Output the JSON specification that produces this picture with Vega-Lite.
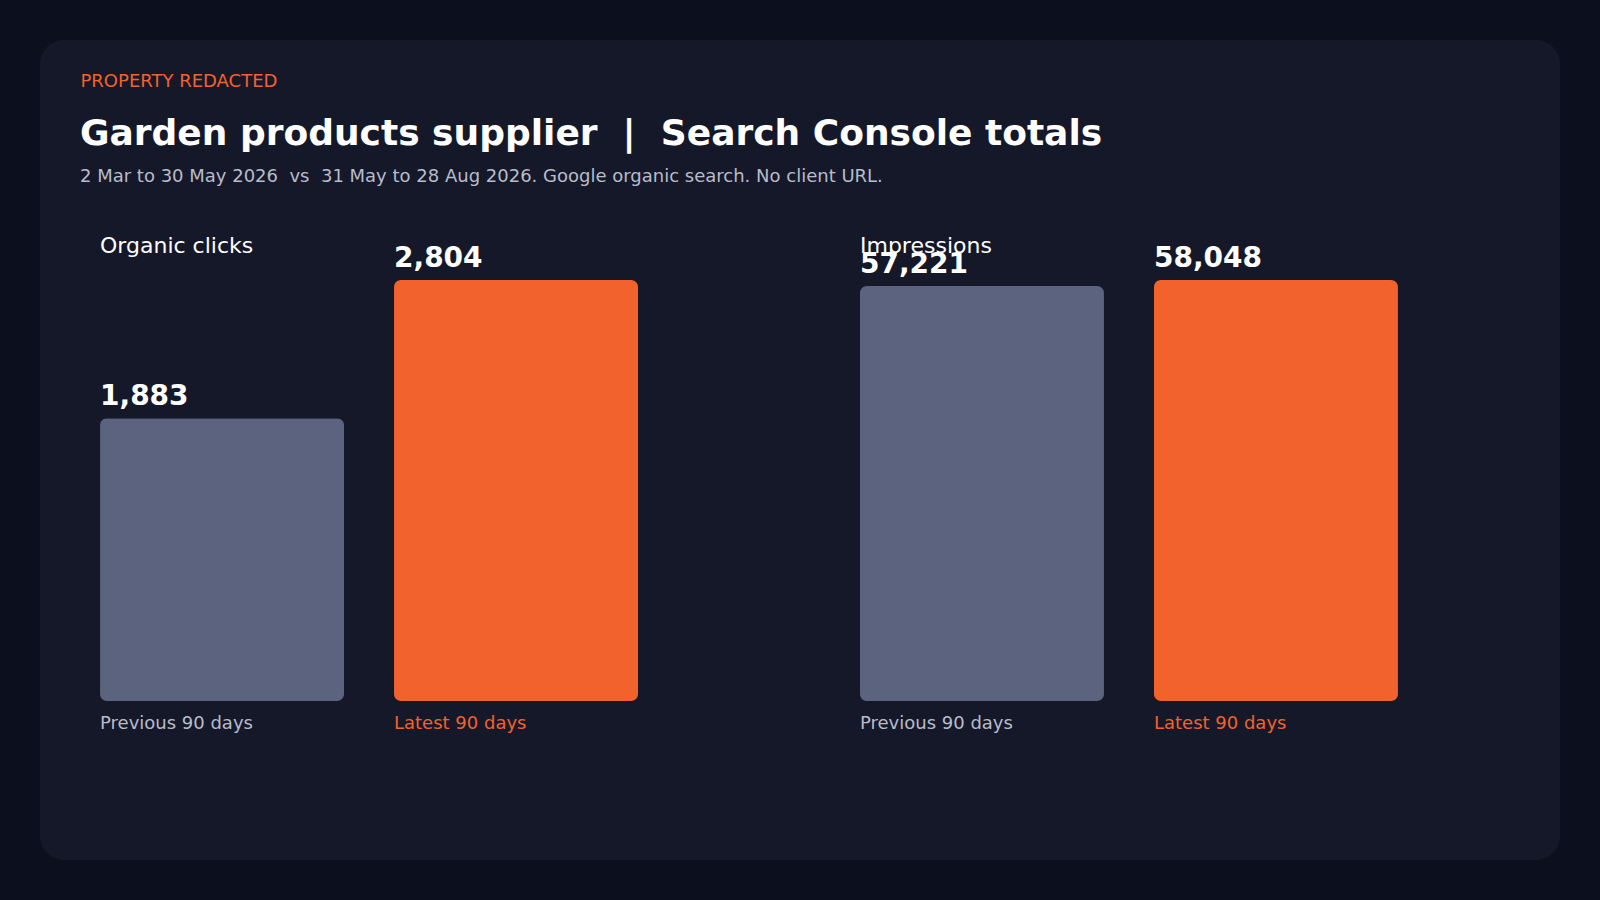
{
  "$schema": "https://vega.github.io/schema/vega-lite/v6.json",
  "width": 1600,
  "height": 900,
  "autosize": {"type": "fit", "contains": "padding"},
  "padding": 40,
  "background": "#0c0f1e",
  "title": {
    "text": "Garden products supplier \u00a0|\u00a0 Search Console totals",
    "subtitle": "2 Mar to 30 May 2026 \u00a0vs\u00a0 31 May to 28 Aug 2026. Google organic search. No client URL.",
    "orient": "top",
    "anchor": "start",
    "frame": "group",
    "offset": -147,
    "dx": 40,
    "font": "DejaVu Sans",
    "fontSize": 36,
    "fontWeight": "bold",
    "color": "#ffffff",
    "subtitleFont": "DejaVu Sans",
    "subtitleFontSize": 18,
    "subtitleColor": "#b8bccb",
    "subtitlePadding": 15
  },
  "data": {
    "values": [
      {"metric": "Organic clicks", "period": "Previous 90 days", "value": 1883},
      {"metric": "Organic clicks", "period": "Latest 90 days", "value": 2804},
      {"metric": "Impressions", "period": "Previous 90 days", "value": 57221},
      {"metric": "Impressions", "period": "Latest 90 days", "value": 58048}
    ]
  },
  "encoding": {
    "x": {
      "field": "metric",
      "type": "nominal",
      "sort": ["Organic clicks", "Impressions"],
      "scale": {"paddingInner": 0.2921, "paddingOuter": 0.1461, "align": 0.2703},
      "axis": {
        "orient": "top",
        "offset": -212,
        "domain": false,
        "ticks": false,
        "tickSize": 0,
        "grid": false,
        "labelOffset": -269,
        "labelPadding": 0,
        "labelAngle": 0,
        "labelAlign": "left",
        "labelBaseline": "alphabetic",
        "labelFont": "DejaVu Sans",
        "labelFontSize": 22,
        "labelColor": "#ffffff",
        "labelLimit": 0,
        "labelOverlap": false,
        "title": "PROPERTY REDACTED",
        "titleFont": "DejaVu Sans",
        "titleFontSize": 18,
        "titleFontWeight": "normal",
        "titleColor": "#f2622c",
        "titleAnchor": "start",
        "titleAlign": "left",
        "titleBaseline": "alphabetic",
        "titleX": 40,
        "titleY": -166
      }
    },
    "xOffset": {
      "field": "period",
      "type": "nominal",
      "sort": ["Previous 90 days", "Latest 90 days"],
      "scale": {"paddingInner": 0.1701, "paddingOuter": 0}
    }
  },
  "layer": [
    {
      "transform": [{"filter": "datum.metric === 'Organic clicks'"}],
      "encoding": {
        "y": {
          "field": "value",
          "type": "quantitative",
          "scale": {"domain": [-1059, 4402.5], "nice": false},
          "axis": null
        }
      },
      "layer": [
        {
          "mark": {"type": "bar", "cornerRadius": 7},
          "encoding": {
            "color": {
              "field": "period",
              "type": "nominal",
              "scale": {"domain": ["Previous 90 days", "Latest 90 days"], "range": ["#5b637e", "#f2622c"]},
              "legend": null
            }
          }
        },
        {
          "mark": {"type": "text", "align": "left", "baseline": "alphabetic", "dx": -122, "dy": -13, "font": "DejaVu Sans", "fontSize": 28, "fontWeight": "bold", "color": "#ffffff"},
          "encoding": {"text": {"field": "value", "type": "quantitative", "format": ","}}
        },
        {
          "mark": {"type": "text", "align": "left", "baseline": "alphabetic", "dx": -122, "dy": 28, "font": "DejaVu Sans", "fontSize": 18},
          "encoding": {
            "y": {"datum": 0},
            "text": {"field": "period"},
            "color": {"condition": {"test": "datum.period === 'Latest 90 days'", "value": "#f2622c"}, "value": "#b8bccb"}
          }
        }
      ]
    },
    {
      "transform": [{"filter": "datum.metric === 'Impressions'"}],
      "encoding": {
        "y": {
          "field": "value",
          "type": "quantitative",
          "scale": {"domain": [-21923, 91140], "nice": false},
          "axis": null
        }
      },
      "layer": [
        {
          "mark": {"type": "bar", "cornerRadius": 7},
          "encoding": {
            "color": {
              "field": "period",
              "type": "nominal",
              "scale": {"domain": ["Previous 90 days", "Latest 90 days"], "range": ["#5b637e", "#f2622c"]},
              "legend": null
            }
          }
        },
        {
          "mark": {"type": "text", "align": "left", "baseline": "alphabetic", "dx": -122, "dy": -13, "font": "DejaVu Sans", "fontSize": 28, "fontWeight": "bold", "color": "#ffffff"},
          "encoding": {"text": {"field": "value", "type": "quantitative", "format": ","}}
        },
        {
          "mark": {"type": "text", "align": "left", "baseline": "alphabetic", "dx": -122, "dy": 28, "font": "DejaVu Sans", "fontSize": 18},
          "encoding": {
            "y": {"datum": 0},
            "text": {"field": "period"},
            "color": {"condition": {"test": "datum.period === 'Latest 90 days'", "value": "#f2622c"}, "value": "#b8bccb"}
          }
        }
      ]
    }
  ],
  "resolve": {"scale": {"y": "independent"}},
  "config": {
    "view": {"fill": "#151829", "stroke": null, "cornerRadius": 24},
    "font": "DejaVu Sans"
  }
}
